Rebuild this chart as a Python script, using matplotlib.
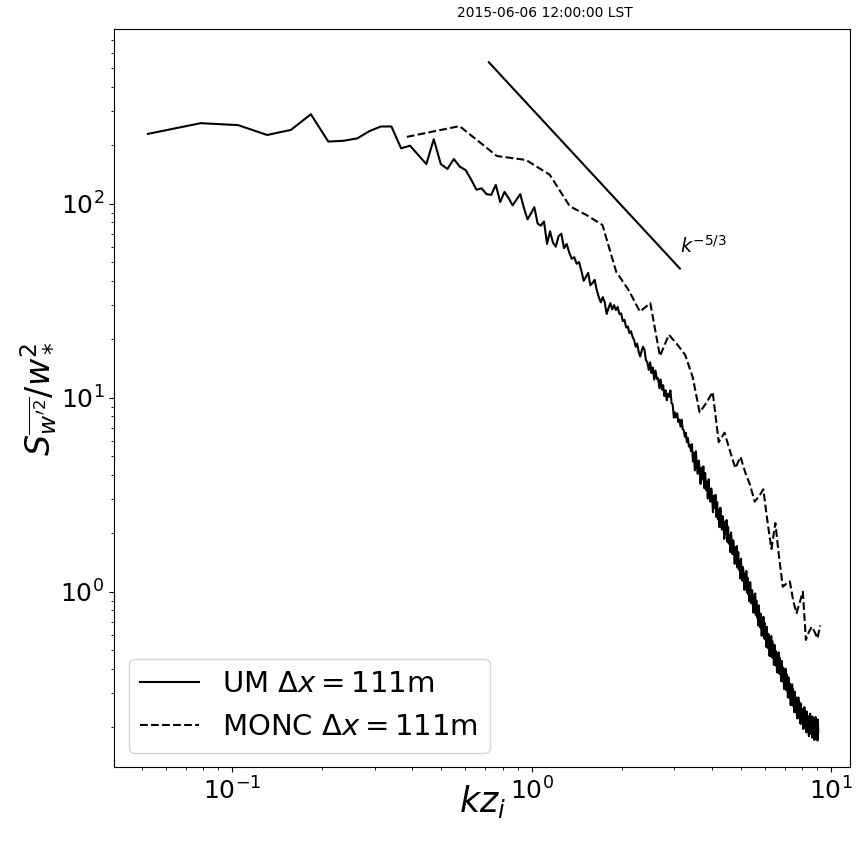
import numpy as np
import matplotlib
matplotlib.use("Agg")
import matplotlib.pyplot as plt

# ---- data ----
dk_um = 0.0262      # wavenumber spacing (k z_i) of UM spectrum
dk_monc = 0.1917    # wavenumber spacing (k z_i) of MONC spectrum
um_first_index = 2
monc_first_index = 2

um_spec = [
    229, 260, 254, 226, 240, 289, 209, 211, 217, 237, 250, 250, 193, 199, 178, 160, 215, 160, 151, 170,
    155, 149, 133, 118, 120, 112,
    111, 125, 102, 115, 107, 98, 105, 112, 95, 83, 89, 96, 79, 77, 81, 62, 72, 63, 60, 68, 70, 59, 62, 56,
    52, 53, 49, 50, 45, 40, 42, 44, 38, 39, 40.5, 36, 33, 31, 33, 31, 27, 29, 30.7, 28.5,
    30, 28.3, 29.4, 27, 27.2, 24.8, 25.2, 23, 23.3, 21.5, 22, 20.6, 19.8, 18.3, 19, 17.2, 16.3, 17.4, 18.3, 17.6,
    15.6, 15.2, 13.9, 15.2, 13.4, 14.3, 12.4, 13.8, 12.5, 12.6, 11.2, 12.4, 11.0, 11.6, 10.2, 10.9, 9.7, 10.5, 10.1, 10.9,
    9.4, 9.2, 7.9, 8.4, 7.9, 8.3, 7.5, 7.7, 7.1, 7.7, 6.9, 6.8, 6.3, 6.6, 5.9, 6.2, 5.6, 5.7, 5.3,
    5.76, 4.69, 5.18, 4.22, 5.30, 4.47, 4.05, 4.74, 4.28, 3.59,
    4.35, 3.78, 4.43, 3.42, 4.09, 3.34, 3.69, 3.02, 3.80, 3.21,
    2.91, 3.40, 3.07, 2.57, 3.12, 2.70, 3.16, 2.43, 2.90, 2.36,
    2.62, 2.15, 2.71, 2.30, 2.09, 2.45, 2.23, 1.87, 2.29, 1.99,
    2.34, 1.81, 2.16, 1.77, 1.96, 1.60, 2.02, 1.72, 1.56, 1.84,
    1.66, 1.39, 1.69, 1.47, 1.72, 1.33, 1.60, 1.30, 1.44, 1.17,
    1.48, 1.25, 1.14, 1.34, 1.21, 1.02, 1.24, 1.08, 1.28, 0.99,
    1.18, 0.97, 1.08, 0.89, 1.12, 0.95, 0.87, 1.02, 0.93, 0.78,
    0.96, 0.83, 0.98, 0.76, 0.90, 0.74, 0.82, 0.67, 0.85, 0.72,
    0.655, 0.771, 0.701, 0.592, 0.722, 0.630, 0.742, 0.575, 0.690, 0.568,
    0.631, 0.519, 0.659, 0.561, 0.512, 0.605, 0.551, 0.466, 0.570, 0.499,
    0.591, 0.460, 0.554, 0.457, 0.510, 0.420, 0.533, 0.456, 0.417, 0.494,
    0.451, 0.383, 0.470, 0.411, 0.487, 0.379, 0.457, 0.377, 0.420, 0.346,
    0.440, 0.375, 0.344, 0.407, 0.371, 0.315, 0.386, 0.338, 0.401, 0.312,
    0.376, 0.310, 0.346, 0.285, 0.363, 0.309, 0.284, 0.336, 0.306, 0.260,
    0.320, 0.280, 0.333, 0.259, 0.314, 0.259, 0.289, 0.239, 0.305, 0.261,
    0.239, 0.285, 0.261, 0.222, 0.274, 0.240, 0.285, 0.223, 0.270, 0.224,
    0.251, 0.208, 0.265, 0.228, 0.210, 0.249, 0.229, 0.196, 0.242, 0.213,
    0.254, 0.199, 0.242, 0.201, 0.226, 0.188, 0.241, 0.207, 0.191, 0.228,
    0.210, 0.180, 0.223, 0.197, 0.235, 0.185, 0.225, 0.188, 0.212, 0.177,
    0.227, 0.196, 0.181, 0.217, 0.200, 0.172, 0.213, 0.189, 0.226, 0.178,
    0.217, 0.181, 0.204, 0.171, 0.219, 0.189,
]

monc_spec = [
    221, 251, 176, 168, 141, 97, 87, 77.6, 44.6, 35.9, 27.8, 30.7, 16.4, 21.1, 18.8, 16.6, 12.8,
    8.4, 9.4, 10.7, 5.9, 6.6, 5.3, 4.33, 4.96, 4.1, 3.55, 2.91, 3.1, 3.37, 2.3, 1.66, 2.26, 1.5,
    1.06, 1.1, 1.13, 0.9, 0.774, 0.88, 1.0, 0.564, 0.62, 0.66, 0.62, 0.575, 0.67,
]

ref_k = [0.72, 3.13]      # extent of the k^-5/3 guide line
ref_amp = 310.0           # amplitude of the guide line
ref_slope = -5.0 / 3.0

title_text = "2015-06-06 12:00:00 LST"
um_label = r"UM $\Delta x = 111$m"
monc_label = r"MONC $\Delta x = 111$m"

# ---- derived ----
kzi_um = dk_um * np.arange(um_first_index, um_first_index + len(um_spec))
kzi_monc = dk_monc * np.arange(monc_first_index, monc_first_index + len(monc_spec))
ref_k = np.array(ref_k)
ref_S = ref_amp * ref_k ** ref_slope

# ---- figure ----
fig = plt.figure(figsize=(8.59, 8.41), dpi=100)
ax = fig.add_axes([114 / 859, (841 - 767.3) / 841, (850 - 114) / 859, (767.3 - 29) / 841])

ax.loglog(kzi_um, um_spec, color="black", lw=1.5, ls="-", label=um_label)
ax.loglog(kzi_monc, monc_spec, color="black", lw=1.5, ls="--", label=monc_label)
ax.loglog(ref_k, ref_S, color="black", lw=1.5, ls="-")
ax.text(ref_k[-1], 56, r"$k^{-5/3}$", fontsize=14, ha="left", va="baseline")

ax.set_xlim(0.04036, 11.57)
ax.set_ylim(0.1244, 795)

ax.set_xlabel(r"$kz_i$", fontsize=25)
ax.xaxis.set_label_coords(0.5, (767.3 - 783) / 738.3)
ax.set_ylabel(r"$S_{\overline{w'^2}}/w_*^2$", fontsize=24)
ax.tick_params(axis="both", which="major", labelsize=18)

ax.legend(loc="lower left", fontsize=21)

fig.text(545 / 859, 1 - 13 / 841, title_text, fontsize=10, ha="center", va="center")

fig.savefig("out.png", dpi=100)
